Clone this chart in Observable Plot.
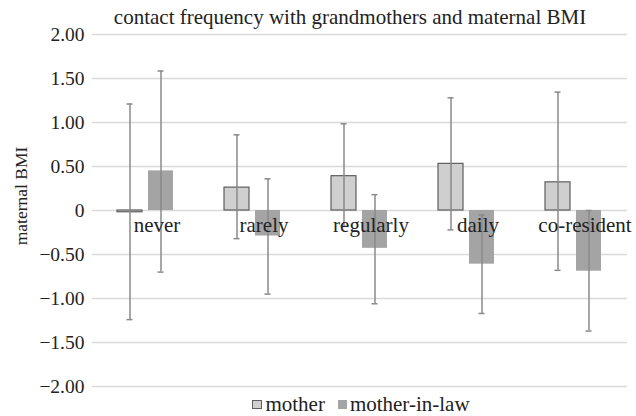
<!DOCTYPE html>
<html>
<head>
<meta charset="utf-8">
<script src="https://cdn.jsdelivr.net/npm/d3@7"></script>
<script src="https://cdn.jsdelivr.net/npm/@observablehq/plot@0.6"></script>
<style>
  html, body { margin: 0; padding: 0; background: #fff; }
  body { width: 636px; height: 416px; position: relative; overflow: hidden; font-family: "Liberation Serif", "Times New Roman", serif; color: #222; }
  #chart { position: absolute; left: 0; top: 0; }
  #title { position: absolute; left: 0; top: 0; height: 28px; line-height: 34px; font-size: 21px; text-align: center; padding-left: 64px; box-sizing: border-box; width: 636px; white-space: nowrap; }
  #ylabel { position: absolute; left: 21px; top: 196px; transform: translate(-50%, -50%) rotate(-90deg); font-size: 17.5px; white-space: nowrap; }
  #legend { position: absolute; left: 0; top: 390px; height: 28px; width: 636px; box-sizing: border-box; padding-left: 86px; display: flex; justify-content: center; align-items: center; font-size: 21px; }
  .item { display: flex; align-items: center; }
  .sw { display: inline-block; margin-right: 3px; box-sizing: border-box; }
  svg { display: block; }
</style>
</head>
<body>
<div id="chart"></div>
<div id="title"></div>
<div id="ylabel"></div>
<div id="legend"></div>
<script>
const titleText = "contact frequency with grandmothers and maternal BMI";
const yLabel = "maternal BMI";
const categories = ["never", "rarely", "regularly", "daily", "co-resident"];
const seriesNames = ["mother", "mother-in-law"];
const motherMean = [-0.02, 0.26, 0.39, 0.53, 0.32];
const motherUpper = [1.21, 0.86, 0.985, 1.28, 1.345];
const motherLower = [-1.24, -0.32, -0.18, -0.22, -0.68];
const milMean = [0.45, -0.29, -0.43, -0.61, -0.69];
const milUpper = [1.585, 0.36, 0.18, -0.05, 0.0];
const milLower = [-0.70, -0.95, -1.06, -1.17, -1.37];
const yTicks = [-2, -1.5, -1, -0.5, 0, 0.5, 1, 1.5, 2];
const colors = ["#cfcfcf", "#a4a4a4"];

const rows = categories.flatMap((c, i) => [
  {cat: c, series: seriesNames[0], mean: motherMean[i], hi: motherUpper[i], lo: motherLower[i]},
  {cat: c, series: seriesNames[1], mean: milMean[i], hi: milUpper[i], lo: milLower[i]}
]);

const fmt = d => d === 0 ? "0" : (d < 0 ? "\u2212" : "") + Math.abs(d).toFixed(2);

document.getElementById("title").textContent = titleText;
document.getElementById("ylabel").textContent = yLabel;

const chart = Plot.plot({
  width: 636,
  height: 416,
  marginTop: 34,
  marginBottom: 30,
  marginLeft: 92,
  marginRight: 9,
  style: {fontFamily: "Liberation Serif", background: "transparent", color: "#222"},
  fx: {domain: categories, padding: 0, axis: null},
  x: {domain: seriesNames, paddingInner: 0.19, paddingOuter: 0.82, axis: null},
  y: {domain: [-2, 2], axis: null},
  color: {domain: seriesNames, range: colors},
  marks: [
    Plot.gridY(yTicks, {stroke: "#d9d9d9", strokeOpacity: 1, strokeWidth: 1.5}),
    Plot.barY(rows, {fx: "cat", x: "series", y: "mean", fill: "series",
      stroke: d => d.series === "mother" ? "#5e5e5e" : "none", strokeWidth: 1.2}),
    Plot.ruleX(rows, {fx: "cat", x: "series", y1: "lo", y2: "hi", stroke: "#8a8a8a", strokeWidth: 1.5}),
    Plot.tickY(rows, {fx: "cat", x: "series", y: "hi", stroke: "#8a8a8a", strokeWidth: 1.5, insetLeft: 9.5, insetRight: 9.5}),
    Plot.tickY(rows, {fx: "cat", x: "series", y: "lo", stroke: "#8a8a8a", strokeWidth: 1.5, insetLeft: 9.5, insetRight: 9.5}),
    Plot.text(categories, {fx: d => d, y: () => 0, text: d => d, dy: 15, dx: 11, fontSize: 21, fill: "#222"}),
    Plot.axisY(yTicks, {tickSize: 0, tickPadding: 8, fontSize: 19.5, tickFormat: fmt, label: null, fill: "#222"})
  ]
});
document.getElementById("chart").appendChild(chart);

const legend = document.getElementById("legend");
seriesNames.forEach((s, i) => {
  const item = document.createElement("span");
  item.className = "item";
  if (i > 0) item.style.marginLeft = "13px";
  const sw = document.createElement("span");
  sw.className = "sw";
  sw.style.background = colors[i];
  if (i === 0) { sw.style.width = "10px"; sw.style.height = "9px"; sw.style.border = "1.2px solid #5e5e5e"; }
  else { sw.style.width = "9px"; sw.style.height = "9px"; }
  const t = document.createElement("span");
  t.textContent = s;
  item.appendChild(sw);
  item.appendChild(t);
  legend.appendChild(item);
});
</script>
</body>
</html>
